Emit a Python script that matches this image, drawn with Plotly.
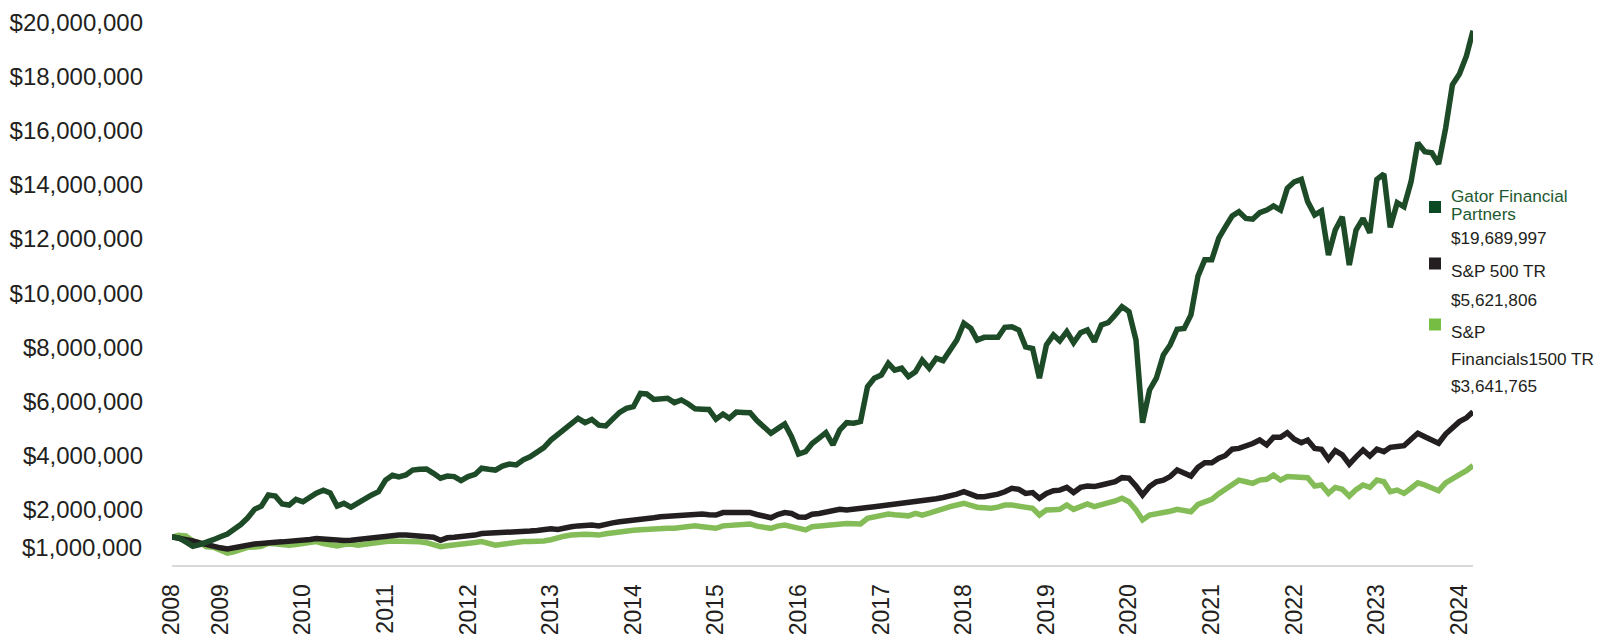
import pandas as pd
import plotly.graph_objects as go

# Monthly dates (Jun 2008 - Mar 2024)
dates = pd.date_range("2008-06-01", periods=190, freq="MS")

# Values in $ millions
gator = [
    1.00, 0.97, 0.82, 0.66, 0.72, 0.79, 0.90, 1.01, 1.11, 1.28,
    1.46, 1.70, 2.02, 2.14, 2.55, 2.51, 2.22, 2.18, 2.39, 2.30,
    2.50, 2.62, 2.73, 2.63, 2.14, 2.24, 2.10, 2.27, 2.43, 2.55,
    2.67, 3.10, 3.28, 3.22, 3.29, 3.47, 3.50, 3.51, 3.35, 3.17,
    3.25, 3.23, 3.08, 3.23, 3.31, 3.54, 3.50, 3.47, 3.62, 3.69,
    3.66, 3.85, 3.96, 4.12, 4.30, 4.58, 4.78, 4.95, 5.15, 5.38,
    5.22, 5.34, 5.13, 5.10, 5.35, 5.60, 5.75, 5.81, 6.30, 6.28,
    6.08, 6.10, 6.12, 5.96, 6.06, 5.91, 5.73, 5.72, 5.71, 5.35,
    5.54, 5.38, 5.61, 5.60, 5.59, 5.30, 5.05, 4.83, 5.00, 5.17,
    4.70, 4.06, 4.15, 4.45, 4.65, 4.85, 4.40, 4.95, 5.22, 5.20,
    5.26, 6.55, 6.86, 6.98, 7.41, 7.16, 7.23, 6.92, 7.10, 7.53,
    7.23, 7.60, 7.51, 7.93, 8.27, 8.89, 8.70, 8.27, 8.37, 8.37,
    8.37, 8.74, 8.76, 8.64, 8.02, 7.96, 6.86, 8.09, 8.46, 8.24,
    8.58, 8.17, 8.54, 8.64, 8.21, 8.83, 8.91, 9.20, 9.50, 9.32,
    8.27, 5.22, 6.43, 6.86, 7.72, 8.09, 8.67, 8.70, 9.20, 10.63,
    11.23, 11.23, 12.03, 12.43, 12.85, 13.01, 12.76, 12.73, 12.97, 13.07,
    13.22, 13.07, 13.87, 14.11, 14.20, 13.38, 12.89, 13.04, 11.41, 12.33,
    12.82, 11.04, 12.33, 12.76, 12.23, 14.20, 14.40, 12.43, 13.34, 13.19,
    14.11, 15.55, 15.22, 15.18, 14.77, 16.09, 17.69, 18.09, 18.76, 19.69,
]

sp500 = [
    1.00, 0.96, 0.92, 0.85, 0.78, 0.71, 0.66, 0.60, 0.56, 0.61,
    0.67, 0.72, 0.74, 0.76, 0.80, 0.81, 0.82, 0.83, 0.85, 0.88,
    0.91, 0.94, 0.91, 0.88, 0.85, 0.87, 0.88, 0.91, 0.94, 0.98,
    1.02, 1.05, 1.06, 1.07, 1.07, 1.06, 1.05, 1.03, 0.99, 0.88,
    0.97, 0.99, 1.00, 1.03, 1.07, 1.13, 1.14, 1.15, 1.16, 1.14,
    1.17, 1.20, 1.22, 1.24, 1.27, 1.30, 1.28, 1.34, 1.38, 1.41,
    1.43, 1.44, 1.41, 1.48, 1.52, 1.56, 1.58, 1.60, 1.67, 1.69,
    1.71, 1.75, 1.77, 1.80, 1.82, 1.84, 1.87, 1.85, 1.82, 1.81,
    1.90, 1.89, 1.90, 1.91, 1.90, 1.83, 1.75, 1.71, 1.83, 1.90,
    1.87, 1.74, 1.73, 1.84, 1.87, 1.93, 1.95, 2.02, 2.00, 2.02,
    2.02, 2.09, 2.12, 2.15, 2.21, 2.22, 2.24, 2.27, 2.29, 2.32,
    2.36, 2.41, 2.46, 2.51, 2.58, 2.67, 2.56, 2.49, 2.49, 2.52,
    2.58, 2.67, 2.80, 2.76, 2.61, 2.64, 2.43, 2.61, 2.71, 2.73,
    2.83, 2.64, 2.83, 2.88, 2.86, 2.92, 2.98, 3.04, 3.19, 3.17,
    2.88, 2.55, 2.86, 3.04, 3.10, 3.23, 3.47, 3.35, 3.25, 3.57,
    3.74, 3.74, 3.91, 4.00, 4.24, 4.27, 4.34, 4.45, 4.58, 4.40,
    4.68, 4.68, 4.85, 4.61, 4.48, 4.58, 4.27, 4.24, 3.87, 4.19,
    4.03, 3.69, 3.96, 4.21, 3.99, 4.24, 4.15, 4.31, 4.34, 4.37,
    4.61, 4.83, 4.70, 4.60, 4.46, 4.80, 5.01, 5.26, 5.40, 5.62,
]

fin1500 = [
    1.00, 1.06, 1.04, 0.85, 0.79, 0.64, 0.62, 0.50, 0.40, 0.45,
    0.56, 0.62, 0.63, 0.66, 0.77, 0.73, 0.70, 0.70, 0.72, 0.76,
    0.80, 0.83, 0.76, 0.70, 0.67, 0.72, 0.74, 0.70, 0.74, 0.77,
    0.80, 0.83, 0.85, 0.85, 0.85, 0.84, 0.82, 0.79, 0.72, 0.64,
    0.68, 0.70, 0.73, 0.77, 0.80, 0.83, 0.76, 0.70, 0.73, 0.77,
    0.80, 0.83, 0.83, 0.83, 0.85, 0.90, 0.99, 1.03, 1.07, 1.11,
    1.10, 1.09, 1.07, 1.12, 1.16, 1.20, 1.22, 1.25, 1.27, 1.29,
    1.31, 1.32, 1.32, 1.32, 1.35, 1.38, 1.41, 1.38, 1.35, 1.32,
    1.41, 1.43, 1.45, 1.46, 1.48, 1.40, 1.35, 1.32, 1.40, 1.44,
    1.38, 1.31, 1.26, 1.38, 1.41, 1.44, 1.47, 1.51, 1.50, 1.49,
    1.48, 1.69, 1.75, 1.80, 1.85, 1.82, 1.80, 1.78, 1.87, 1.81,
    1.88, 1.97, 2.05, 2.12, 2.18, 2.24, 2.17, 2.10, 2.08, 2.06,
    2.10, 2.18, 2.18, 2.14, 2.12, 2.06, 1.81, 2.00, 2.01, 2.02,
    2.18, 2.02, 2.12, 2.22, 2.12, 2.18, 2.24, 2.33, 2.43, 2.30,
    2.00, 1.63, 1.81, 1.84, 1.87, 1.95, 2.02, 1.98, 1.93, 2.20,
    2.32, 2.39, 2.60, 2.75, 2.90, 3.10, 3.04, 2.98, 3.10, 3.13,
    3.29, 3.10, 3.23, 3.21, 3.20, 3.19, 2.88, 2.92, 2.61, 2.83,
    2.76, 2.51, 2.75, 2.92, 2.83, 3.10, 3.04, 2.67, 2.73, 2.61,
    2.80, 3.00, 2.92, 2.82, 2.71, 3.00, 3.17, 3.30, 3.45, 3.64,
]

series_names = ["Gator Financial Partners", "S&P 500 TR", "S&P Financials1500 TR"]
end_values = ["$19,689,997", "$5,621,806", "$3,641,765"]
year_labels = ["2008"] + [str(y) for y in range(2009, 2025)]
tick_dates = [dates[0]] + [pd.Timestamp(f"{y}-01-01") for y in range(2009, 2025)]
y_tick_vals = [v * 1_000_000 for v in range(2, 21, 2)]
y_tick_text = [f"${v:,}" for v in y_tick_vals]

C_GATOR = "#1d4a27"
C_SP = "#231f20"
C_FIN = "#84bd57"

fig = go.Figure()
for vals, name, col in [(fin1500, series_names[2], C_FIN),
                        (sp500, series_names[1], C_SP),
                        (gator, series_names[0], C_GATOR)]:
    fig.add_trace(go.Scatter(
        x=dates, y=[v * 1_000_000 for v in vals], mode="lines", name=name,
        line=dict(color=col, width=5.5, shape="linear"), showlegend=False,
        hoverinfo="skip"))

W, H = 1600, 634
L, R, T, B = 172, 127, 10, 69
pw, ph = W - L - R, H - T - B

def px(xp):
    return (xp - L) / pw

def py(yp):
    return (H - B - yp) / ph

FONT = "Arial, 'Liberation Sans', sans-serif"
YSTAND = 28

fig.update_layout(
    width=W, height=H,
    margin=dict(l=L, r=R, t=T, b=B, pad=0, autoexpand=False),
    plot_bgcolor="white", paper_bgcolor="white",
    font=dict(family=FONT, color="#231f20"),
    xaxis=dict(
        type="date", range=[dates[0], dates[-1]],
        tickmode="array", tickvals=tick_dates, ticktext=year_labels,
        tickangle=-90, tickfont=dict(size=23, color="#231f20"),
        showgrid=False, zeroline=False, showline=True,
        linecolor="#d9d9d9", linewidth=2, ticks="", ticklabelstandoff=8,
        automargin=False,
    ),
    yaxis=dict(
        range=[-34_000, 20_454_000],
        tickmode="array", tickvals=y_tick_vals, ticktext=y_tick_text,
        tickfont=dict(size=24, color="#231f20"),
        showgrid=False, zeroline=False, showline=False, ticks="",
        ticklabelstandoff=YSTAND, automargin=False,
    ),
)

# $1,000,000 label (drawn slightly below its level as in the source)
fig.add_annotation(x=0, xref="paper", y=1_000_000, yref="y", text="$1,000,000",
                   showarrow=False, xanchor="right", yanchor="middle",
                   xshift=-YSTAND, yshift=-11,
                   font=dict(size=24, color="#231f20", family=FONT))

# Custom legend
leg = [
    ("#0b4a22", [("Gator Financial", 195.5, "#1e5a30"), ("Partners", 213.5, "#1e5a30"), (end_values[0], 238, "#231f20")], 207),
    ("#231f20", [("S&P 500 TR", 270.5, "#231f20"), (end_values[1], 300, "#231f20")], 263.5),
    ("#76bd43", [("S&P", 332, "#231f20"), ("Financials1500 TR", 359, "#231f20"), (end_values[2], 386, "#231f20")], 324.5),
]
for sq, lines, sqy in leg:
    fig.add_shape(type="rect", xref="paper", yref="paper",
                  x0=px(1429), x1=px(1441), y0=py(sqy + 6), y1=py(sqy - 6),
                  fillcolor=sq, line=dict(width=0))
    for txt, ty, tc in lines:
        fig.add_annotation(x=px(1449), xref="paper", y=py(ty), yref="paper",
                           text=txt, showarrow=False, xanchor="left", yanchor="middle",
                           font=dict(size=17.2, color=tc, family=FONT))

fig.write_html("out.html", config={"displayModeBar": False},
               post_script="document.body.style.margin='0px';")
